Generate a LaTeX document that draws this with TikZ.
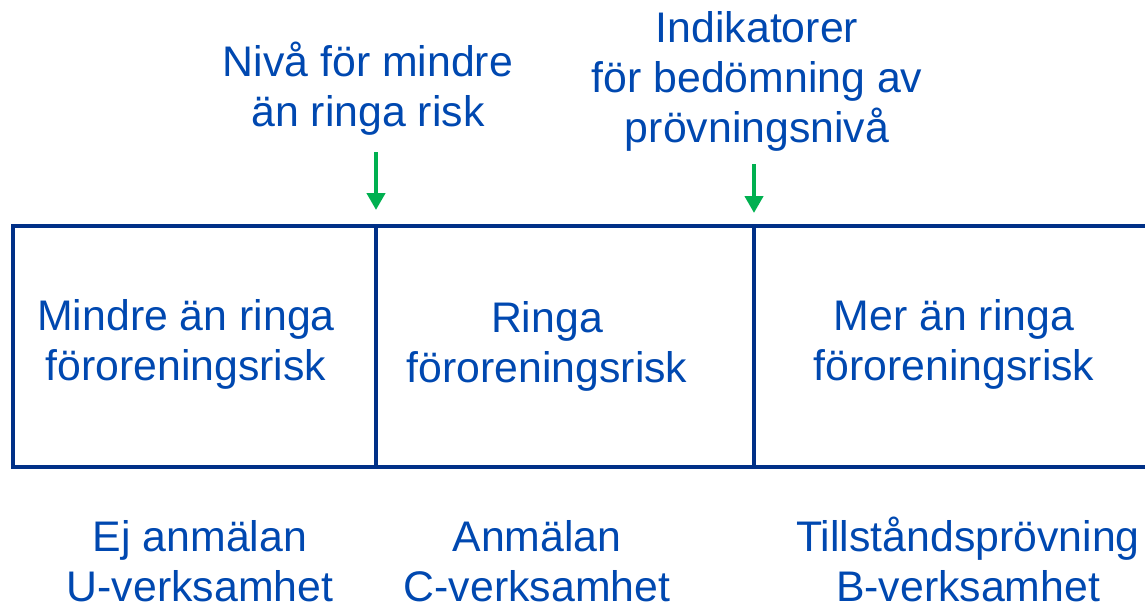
\documentclass[tikz,border=0pt]{standalone}
\usepackage{fontspec}
\setmainfont{Liberation Sans}
\usetikzlibrary{arrows.meta}
\definecolor{marin}{RGB}{0,48,135}
\definecolor{textbla}{RGB}{0,72,176}
\definecolor{gron}{RGB}{0,176,80}
\begin{document}
\begin{tikzpicture}[x=0.5pt,y=-0.5pt]
	\tikzset{
		every node/.style={font=\fontsize{21.4}{25}\selectfont,text=textbla,align=center,inner sep=0pt,anchor=base},
		% ram
		ram/.style={draw=marin,line width=2.25pt},
		% pil
		pil/.style={draw=gron,line width=2.1pt,-{Triangle[width=9pt,length=8.5pt]}},
	}
	\useasboundingbox (0,0) rectangle (1145,605);
	%
	\draw[ram] (1145,226)--(13,226)--(13,467)--(1145,467);
	\draw[ram] (376,226)--(376,467) (754,226)--(754,467);
	%
	\node (niva) at (368,126) {Nivå för mindre\\än ringa risk};
	\node (indik) at (757,142) {Indikatorer\\för bedömning av\\prövningsnivå};
	\node (risk1) at (186,380) {Mindre än ringa\\föroreningsrisk};
	\node (risk2) at (547,382) {Ringa\\föroreningsrisk};
	\node (risk3) at (954,380) {Mer än ringa\\föroreningsrisk};
	\node (prov1) at (200,601) {Ej anmälan\\U-verksamhet};
	\node (prov2) at (537,601) {Anmälan\\C-verksamhet};
	\node (prov3) at (968,601) {Tillståndsprövning\\B-verksamhet};
	%
	\coordinate (p1a) at (376,152);
	\coordinate (p1b) at (376,210);
	\coordinate (p2a) at (754,164);
	\coordinate (p2b) at (754,213);
	\draw[pil] (p1a)--(p1b);
	\draw[pil] (p2a)--(p2b);
\end{tikzpicture}
\end{document}
